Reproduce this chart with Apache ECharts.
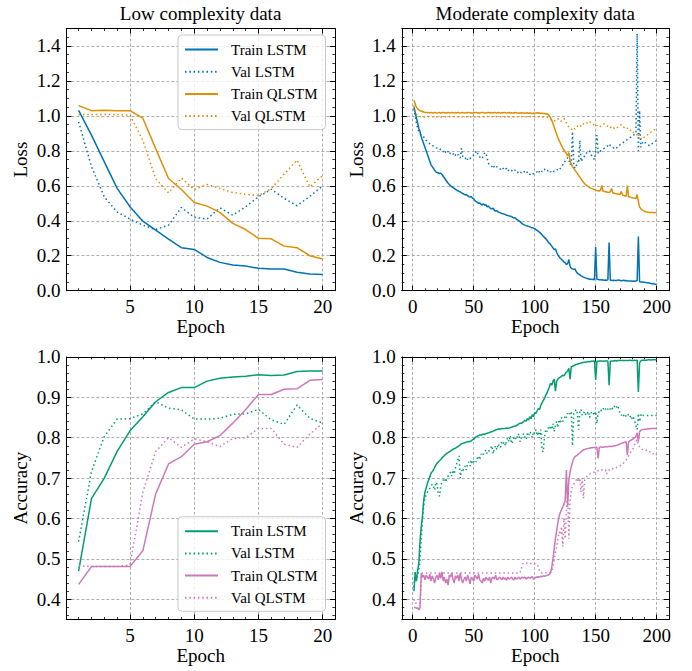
<!DOCTYPE html>
<html><head><meta charset="utf-8">
<script src="https://cdn.jsdelivr.net/npm/echarts@6/dist/echarts.min.js"></script>
<style>html,body{margin:0;padding:0;background:#fff}#c{width:692px;height:671px}</style>
</head><body><div id="c"></div>
<script>
// ---------- data ----------
const epochsLow = [1,2,3,4,5,6,7,8,9,10,11,12,13,14,15,16,17,18,19,20];
const epochsMod = Array.from({length:200}, (_, i) => i + 1);

const lowXTicks = [5,10,15,20];
const modXTicks = [0,50,100,150,200];
const lossYTicks = [0,0.2,0.4,0.6,0.8,1.0,1.2,1.4];
const accYTicks = [0.4,0.5,0.6,0.7,0.8,0.9,1.0];

const legendNames = ['Train LSTM','Val LSTM','Train QLSTM','Val QLSTM'];
const titles = ['Low complexity data','Moderate complexity data'];

// Low complexity: loss
const lossTrainLSTMLow = [1.032,0.89,0.737,0.585,0.48,0.398,0.347,0.295,0.246,0.236,0.19,0.162,0.147,0.141,0.128,0.124,0.124,0.105,0.095,0.093];
const lossValLSTMLow   = [0.966,0.71,0.537,0.45,0.41,0.375,0.35,0.375,0.476,0.42,0.41,0.474,0.432,0.48,0.537,0.58,0.528,0.486,0.54,0.6];
const lossTrainQLSTMLow= [1.059,1.03,1.032,1.03,1.03,0.987,0.813,0.642,0.579,0.505,0.484,0.448,0.385,0.35,0.3,0.297,0.255,0.246,0.2,0.181];
const lossValQLSTMLow  = [1.008,1.008,1.008,1.008,1.004,0.86,0.64,0.56,0.644,0.579,0.608,0.585,0.562,0.552,0.543,0.585,0.667,0.747,0.594,0.659];
// Low complexity: accuracy
const accTrainLSTMLow  = [0.47,0.649,0.7,0.766,0.817,0.852,0.889,0.912,0.924,0.924,0.94,0.947,0.95,0.952,0.956,0.954,0.955,0.964,0.965,0.965];
const accValLSTMLow    = [0.543,0.716,0.803,0.846,0.847,0.859,0.889,0.873,0.869,0.846,0.846,0.848,0.858,0.859,0.87,0.844,0.833,0.881,0.848,0.836];
const accTrainQLSTMLow = [0.437,0.481,0.481,0.481,0.481,0.52,0.661,0.735,0.753,0.784,0.79,0.805,0.836,0.869,0.907,0.907,0.92,0.921,0.942,0.944];
const accValQLSTMLow   = [0.483,0.481,0.481,0.481,0.485,0.665,0.766,0.8,0.776,0.797,0.79,0.778,0.798,0.8,0.823,0.823,0.784,0.776,0.809,0.836];

// Moderate complexity: loss
const lossTrainLSTMMod = [
1.05,1.02,0.99,0.96,0.93,0.91,0.88,0.86,0.84,0.82,
0.80,0.78,0.76,0.74,0.72,0.71,0.70,0.69,0.68,0.675,
0.675,0.67,0.672,0.665,0.655,0.645,0.635,0.625,0.615,0.608,
0.60,0.595,0.59,0.585,0.58,0.575,0.572,0.568,0.565,0.56,
0.556,0.552,0.548,0.55,0.544,0.538,0.535,0.54,0.53,0.525,
0.515,0.51,0.505,0.50,0.502,0.495,0.49,0.498,0.488,0.492,
0.48,0.485,0.475,0.47,0.468,0.472,0.46,0.455,0.458,0.45,
0.448,0.445,0.442,0.44,0.438,0.435,0.432,0.43,0.428,0.426,
0.425,0.42,0.416,0.418,0.41,0.405,0.40,0.395,0.388,0.382,
0.378,0.375,0.372,0.37,0.368,0.365,0.362,0.36,0.358,0.355,
0.35,0.345,0.34,0.334,0.328,0.32,0.312,0.305,0.298,0.29,
0.28,0.272,0.265,0.255,0.245,0.235,0.24,0.22,0.205,0.195,
0.185,0.18,0.172,0.165,0.16,0.15,0.155,0.178,0.14,0.128,
0.125,0.122,0.125,0.11,0.1,0.095,0.09,0.085,0.082,0.078,
0.075,0.072,0.07,0.068,0.066,0.065,0.064,0.065,0.063,0.25,
0.065,0.064,0.062,0.063,0.061,0.062,0.06,0.061,0.06,0.062,
0.275,0.06,0.06,0.058,0.06,0.059,0.058,0.06,0.062,0.058,
0.057,0.058,0.06,0.057,0.058,0.056,0.055,0.056,0.055,0.054,
0.055,0.054,0.056,0.058,0.31,0.052,0.05,0.05,0.049,0.048,
0.047,0.045,0.046,0.044,0.042,0.04,0.041,0.038,0.037,0.036];
const lossValLSTMMod = [
1.04,1.0,0.96,0.93,0.91,0.9,0.89,0.885,0.88,0.87,
0.86,0.855,0.85,0.84,0.835,0.83,0.828,0.825,0.82,0.815,
0.81,0.805,0.81,0.80,0.795,0.805,0.79,0.8,0.795,0.78,
0.79,0.785,0.78,0.79,0.775,0.77,0.78,0.765,0.76,0.815,
0.77,0.76,0.755,0.765,0.75,0.76,0.755,0.765,0.77,0.775,
0.78,0.8,0.79,0.77,0.765,0.755,0.76,0.77,0.79,0.785,
0.76,0.73,0.72,0.715,0.71,0.72,0.705,0.7,0.71,0.705,
0.7,0.695,0.705,0.7,0.69,0.695,0.7,0.685,0.69,0.695,
0.69,0.68,0.685,0.69,0.68,0.675,0.685,0.68,0.675,0.68,
0.685,0.675,0.67,0.68,0.675,0.665,0.67,0.675,0.668,0.672,
0.675,0.68,0.67,0.685,0.69,0.68,0.69,0.695,0.685,0.69,
0.685,0.69,0.68,0.685,0.69,0.68,0.685,0.69,0.695,0.69,
0.7,0.71,0.72,0.735,0.74,0.755,0.76,0.75,0.72,0.74,
0.91,0.72,0.7,0.71,0.74,0.73,0.86,0.74,0.75,0.765,
0.77,0.785,0.79,0.795,0.8,0.78,0.77,0.76,0.75,0.8,
0.89,0.79,0.785,0.8,0.805,0.81,0.815,0.82,0.825,0.83,
0.84,0.83,0.825,0.82,0.815,0.81,0.815,0.825,0.83,0.835,
0.84,0.845,0.85,0.855,0.86,0.865,0.87,0.875,0.88,0.885,
0.89,0.895,0.9,1.47,0.8,1.03,0.82,0.84,0.855,0.85,
0.845,0.84,0.835,0.83,0.835,0.84,0.845,0.85,0.855,0.86];
const lossTrainQLSTMMod = [
1.09,1.07,1.05,1.04,1.035,1.03,1.028,1.025,1.022,1.02,
1.02,1.018,1.02,1.017,1.02,1.018,1.016,1.02,1.018,1.017,
1.018,1.02,1.016,1.018,1.02,1.017,1.019,1.016,1.02,1.018,
1.017,1.02,1.018,1.016,1.019,1.017,1.02,1.018,1.016,1.018,
1.02,1.017,1.016,1.019,1.018,1.02,1.017,1.018,1.016,1.019,
1.018,1.02,1.017,1.018,1.016,1.019,1.02,1.018,1.017,1.016,
1.018,1.02,1.017,1.019,1.018,1.016,1.02,1.018,1.017,1.019,
1.018,1.016,1.019,1.017,1.02,1.018,1.016,1.018,1.019,1.017,
1.018,1.016,1.017,1.019,1.018,1.016,1.017,1.015,1.018,1.016,
1.017,1.015,1.016,1.018,1.015,1.017,1.016,1.014,1.016,1.015,
1.016,1.018,1.015,1.017,1.014,1.016,1.013,1.015,1.01,1.012,
1.008,1.0,0.99,0.975,0.955,0.935,0.915,0.895,0.875,0.86,
0.845,0.83,0.815,0.805,0.795,0.785,0.77,0.79,0.745,0.725,
0.71,0.7,0.69,0.68,0.67,0.66,0.65,0.64,0.63,0.62,
0.612,0.605,0.6,0.595,0.59,0.587,0.584,0.581,0.578,0.575,
0.573,0.572,0.57,0.575,0.602,0.57,0.567,0.566,0.565,0.563,
0.562,0.566,0.585,0.56,0.558,0.556,0.555,0.553,0.552,0.55,
0.568,0.547,0.545,0.543,0.54,0.602,0.538,0.536,0.534,0.532,
0.53,0.529,0.528,0.55,0.51,0.48,0.468,0.462,0.458,0.455,
0.452,0.45,0.449,0.448,0.448,0.447,0.447,0.446,0.448,0.447];
const lossValQLSTMMod = [
1.06,1.03,1.01,1.0,0.998,0.996,0.995,0.995,0.994,0.994,
0.995,0.994,0.996,0.995,0.994,0.995,0.996,0.994,0.995,0.995,
0.994,0.996,0.995,0.994,0.995,0.996,0.995,0.994,0.995,0.996,
0.995,0.994,0.995,0.996,0.995,0.994,0.995,0.995,0.996,0.994,
0.995,0.996,0.994,0.995,0.995,0.996,0.994,0.995,0.996,0.995,
0.994,0.995,0.996,0.995,0.994,0.995,0.996,0.995,0.994,0.995,
0.996,0.995,0.994,0.995,0.996,0.994,0.995,0.995,0.996,0.995,
0.994,0.995,0.996,0.995,0.994,0.995,0.995,0.996,0.994,0.995,
0.995,0.996,0.994,0.995,0.996,0.995,0.994,0.995,0.996,0.995,
0.994,0.995,0.995,0.996,0.994,0.995,0.996,0.995,0.994,0.995,
0.995,0.994,0.995,0.996,0.995,0.994,0.993,0.994,0.993,0.992,
0.99,0.985,0.98,0.975,0.972,0.97,0.975,0.98,0.985,0.975,
0.968,0.972,0.98,0.985,0.975,0.96,0.945,0.935,0.93,0.925,
0.92,0.93,0.925,0.935,0.94,0.945,0.95,0.94,0.945,0.955,
0.96,0.965,0.96,0.965,0.97,0.96,0.955,0.95,0.945,0.94,
0.945,0.94,0.935,0.94,0.945,0.95,0.955,0.95,0.945,0.94,
0.935,0.93,0.94,0.935,0.93,0.925,0.93,0.935,0.94,0.945,
0.95,0.94,0.935,0.93,0.925,0.93,0.92,0.915,0.92,0.91,
0.905,0.9,0.895,0.89,0.9,0.88,0.87,0.875,0.87,0.88,
0.885,0.89,0.895,0.9,0.905,0.91,0.915,0.92,0.925,0.93];

// Moderate complexity: accuracy
const accTrainLSTMMod = [
0.42,0.465,0.445,0.47,0.49,0.545,0.58,0.605,0.645,0.665,
0.675,0.687,0.695,0.703,0.712,0.716,0.72,0.727,0.732,0.737,
0.74,0.743,0.746,0.75,0.753,0.756,0.759,0.761,0.763,0.765,
0.767,0.769,0.771,0.773,0.774,0.776,0.778,0.78,0.782,0.785,
0.786,0.787,0.788,0.789,0.79,0.79,0.791,0.792,0.795,0.796,
0.8,0.802,0.804,0.805,0.807,0.806,0.808,0.809,0.808,0.81,
0.811,0.812,0.813,0.814,0.815,0.816,0.818,0.819,0.82,0.821,
0.822,0.821,0.823,0.822,0.823,0.823,0.824,0.823,0.824,0.825,
0.826,0.827,0.828,0.829,0.83,0.832,0.834,0.836,0.835,0.838,
0.84,0.843,0.841,0.847,0.844,0.852,0.847,0.857,0.852,0.862,
0.86,0.866,0.872,0.87,0.88,0.886,0.892,0.897,0.905,0.91,
0.918,0.925,0.935,0.93,0.94,0.945,0.915,0.94,0.945,0.948,
0.95,0.952,0.955,0.953,0.958,0.962,0.965,0.972,0.945,0.976,
0.977,0.978,0.98,0.981,0.982,0.983,0.984,0.985,0.986,0.986,
0.987,0.987,0.988,0.988,0.988,0.989,0.989,0.99,0.99,0.943,
0.989,0.989,0.99,0.99,0.99,0.989,0.99,0.99,0.99,0.99,
0.93,0.989,0.99,0.99,0.99,0.991,0.99,0.991,0.991,0.991,
0.991,0.991,0.991,0.991,0.991,0.991,0.991,0.992,0.991,0.991,
0.991,0.992,0.991,0.992,0.913,0.985,0.99,0.992,0.992,0.992,
0.992,0.992,0.993,0.993,0.992,0.993,0.993,0.993,0.993,0.993];
const accValLSTMMod = [
0.43,0.47,0.45,0.46,0.47,0.5,0.55,0.6,0.63,0.65,
0.66,0.665,0.67,0.675,0.68,0.685,0.68,0.67,0.69,0.685,
0.66,0.655,0.68,0.69,0.695,0.7,0.69,0.7,0.705,0.71,
0.715,0.705,0.72,0.71,0.725,0.735,0.745,0.755,0.7,0.72,
0.715,0.725,0.73,0.72,0.735,0.74,0.73,0.745,0.735,0.74,
0.745,0.74,0.75,0.755,0.745,0.76,0.755,0.76,0.765,0.77,
0.76,0.765,0.77,0.775,0.78,0.76,0.775,0.78,0.77,0.785,
0.78,0.775,0.79,0.785,0.79,0.78,0.795,0.8,0.79,0.805,
0.785,0.79,0.8,0.795,0.805,0.8,0.81,0.79,0.8,0.805,
0.81,0.8,0.795,0.81,0.805,0.815,0.81,0.8,0.815,0.81,
0.82,0.805,0.815,0.8,0.82,0.77,0.765,0.8,0.82,0.815,
0.825,0.82,0.83,0.82,0.835,0.815,0.83,0.84,0.825,0.845,
0.835,0.85,0.84,0.845,0.855,0.85,0.86,0.855,0.86,0.865,
0.78,0.86,0.865,0.87,0.86,0.82,0.865,0.87,0.855,0.86,
0.865,0.855,0.86,0.865,0.85,0.86,0.865,0.86,0.855,0.865,
0.835,0.86,0.865,0.87,0.865,0.87,0.875,0.87,0.875,0.87,
0.875,0.87,0.875,0.87,0.875,0.88,0.875,0.88,0.87,0.86,
0.855,0.86,0.855,0.85,0.855,0.86,0.855,0.85,0.855,0.845,
0.85,0.84,0.83,0.82,0.86,0.84,0.855,0.86,0.855,0.855,
0.855,0.855,0.855,0.855,0.855,0.855,0.855,0.855,0.855,0.855];
const accTrainQLSTMMod = [
0.38,0.38,0.378,0.379,0.374,0.38,0.465,0.455,0.46,0.448,
0.46,0.455,0.45,0.462,0.445,0.458,0.45,0.44,0.455,0.46,
0.448,0.465,0.452,0.468,0.445,0.455,0.44,0.45,0.435,0.46,
0.455,0.465,0.45,0.44,0.458,0.452,0.46,0.445,0.465,0.45,
0.44,0.45,0.455,0.445,0.46,0.45,0.438,0.455,0.45,0.445,
0.46,0.455,0.45,0.462,0.448,0.445,0.44,0.452,0.445,0.455,
0.45,0.447,0.455,0.44,0.452,0.455,0.45,0.46,0.448,0.45,
0.455,0.452,0.448,0.455,0.45,0.453,0.447,0.455,0.45,0.452,
0.455,0.45,0.448,0.455,0.45,0.452,0.455,0.45,0.453,0.455,
0.452,0.455,0.45,0.453,0.455,0.452,0.454,0.456,0.45,0.452,
0.455,0.454,0.456,0.455,0.457,0.456,0.458,0.457,0.458,0.459,
0.46,0.462,0.465,0.48,0.5,0.525,0.55,0.57,0.59,0.605,
0.615,0.622,0.628,0.635,0.645,0.72,0.63,0.695,0.715,0.728,
0.74,0.748,0.753,0.755,0.757,0.76,0.762,0.765,0.768,0.77,
0.771,0.772,0.773,0.773,0.774,0.775,0.775,0.776,0.776,0.776,
0.777,0.749,0.776,0.777,0.777,0.776,0.777,0.778,0.777,0.778,
0.778,0.779,0.778,0.779,0.78,0.78,0.781,0.782,0.783,0.785,
0.786,0.787,0.788,0.789,0.79,0.757,0.79,0.792,0.794,0.796,
0.798,0.8,0.803,0.812,0.79,0.815,0.818,0.82,0.82,0.821,
0.821,0.821,0.822,0.822,0.822,0.823,0.823,0.823,0.823,0.823];
const accValQLSTMMod = [
0.4,0.39,0.39,0.39,0.39,0.39,0.45,0.465,0.465,0.465,
0.465,0.465,0.465,0.465,0.465,0.465,0.465,0.465,0.465,0.465,
0.465,0.465,0.465,0.465,0.465,0.465,0.465,0.465,0.465,0.465,
0.465,0.465,0.465,0.465,0.465,0.465,0.465,0.465,0.465,0.465,
0.465,0.465,0.465,0.465,0.465,0.465,0.465,0.465,0.465,0.465,
0.465,0.465,0.465,0.465,0.465,0.465,0.465,0.465,0.465,0.465,
0.465,0.465,0.465,0.465,0.465,0.465,0.465,0.465,0.465,0.465,
0.465,0.465,0.465,0.465,0.465,0.465,0.465,0.465,0.465,0.465,
0.465,0.465,0.465,0.465,0.465,0.465,0.465,0.465,0.475,0.488,
0.488,0.49,0.49,0.49,0.49,0.49,0.488,0.49,0.489,0.488,
0.488,0.487,0.48,0.47,0.466,0.465,0.466,0.465,0.466,0.465,
0.465,0.465,0.468,0.47,0.48,0.5,0.515,0.53,0.55,0.567,
0.56,0.58,0.53,0.6,0.55,0.62,0.665,0.55,0.64,0.67,
0.68,0.685,0.69,0.695,0.7,0.69,0.7,0.665,0.7,0.65,
0.695,0.7,0.705,0.708,0.71,0.712,0.713,0.714,0.715,0.716,
0.717,0.718,0.72,0.719,0.72,0.722,0.721,0.72,0.71,0.718,
0.72,0.722,0.724,0.723,0.725,0.724,0.726,0.727,0.728,0.73,
0.732,0.735,0.738,0.742,0.745,0.75,0.755,0.76,0.765,0.77,
0.775,0.785,0.79,0.795,0.78,0.778,0.775,0.772,0.77,0.77,
0.768,0.77,0.768,0.765,0.765,0.762,0.76,0.762,0.758,0.757];

// ---------- styling / layout ----------
const C = {blue:'#0173B2', orange:'#DE8F05', green:'#029E73', pink:'#CC78BC'};
const FONT = '"Liberation Serif", "DejaVu Serif", serif';
function steps(a, b, s){ const r=[]; for(let v=a; v<=b+1e-9; v+=s) r.push(+v.toFixed(4)); return r; }
const lowXMinor = steps(1,20,1), modXMinor = steps(0,200,10);
const lossYMinor = steps(0,1.5,0.05), accYMinor = steps(0.36,1.0,0.02);

const panels = [
  {rect:{left:66.4, top:28.5, width:268.5, height:262.2}, x:[0.05,20.95], xt:lowXTicks, xm:lowXMinor, y:[0,1.5], yt:lossYTicks, ym:lossYMinor, yname:'Loss'},
  {rect:{left:401.8, top:28.5, width:267, height:262.2}, x:[-8.95,209.95], xt:modXTicks, xm:modXMinor, y:[0,1.5], yt:lossYTicks, ym:lossYMinor, yname:'Loss'},
  {rect:{left:66.4, top:356.9, width:268.5, height:262.6}, x:[0.05,20.95], xt:lowXTicks, xm:lowXMinor, y:[0.35,1.0], yt:accYTicks, ym:accYMinor, yname:'Accuracy'},
  {rect:{left:401.8, top:356.9, width:267, height:262.6}, x:[-8.95,209.95], xt:modXTicks, xm:modXMinor, y:[0.35,1.0], yt:accYTicks, ym:accYMinor, yname:'Accuracy'}
];
const txt = {fontFamily:FONT, fontSize:19, color:'#000'};
const gridLine = {show:true, lineStyle:{color:'#9a9a9a', width:0.8, type:[3,2]}};

function mainAxis(dim, g, pos, p, primary){
  const isX = dim === 'x';
  const ticks = isX ? p.xt : p.yt;
  return {
    type:'value', gridIndex:g, position:pos, silent:true,
    min: isX ? p.x[0] : p.y[0], max: isX ? p.x[1] : p.y[1],
    axisLine:{show:true, onZero:false, lineStyle:{color:'#000', width:1}},
    axisTick:{show:true, inside:true, length:5, customValues:ticks, lineStyle:{color:'#000', width:1}},
    axisLabel:{show:primary, customValues:ticks, margin:6, ...txt,
      formatter: isX ? (v => String(Math.round(v))) : (v => Number(v).toFixed(1))},
    splitLine: primary ? gridLine : {show:false},
    name: primary ? (isX ? 'Epoch' : p.yname) : '',
    nameLocation:'middle', nameGap: isX ? 26 : 36, nameTextStyle:{...txt}
  };
}
function minorAxis(dim, g, pos, p){
  const isX = dim === 'x';
  return {
    type:'value', gridIndex:g, position:pos, silent:true,
    min: isX ? p.x[0] : p.y[0], max: isX ? p.x[1] : p.y[1],
    axisLine:{show:false, onZero:false},
    axisTick:{show:true, inside:true, length:2.5, customValues: isX ? p.xm : p.ym, lineStyle:{color:'#000', width:0.8}},
    axisLabel:{show:false}, splitLine:{show:false}
  };
}
const grid=[], xAxis=[], yAxis=[];
panels.forEach((p,i)=>{
  grid.push({...p.rect, containLabel:false});
  grid.push({...p.rect, containLabel:false});
  const g0 = 2*i, g1 = 2*i+1;
  xAxis.push(mainAxis('x',g0,'bottom',p,true), mainAxis('x',g0,'top',p,false), minorAxis('x',g1,'bottom',p), minorAxis('x',g1,'top',p));
  yAxis.push(mainAxis('y',g0,'left',p,true), mainAxis('y',g0,'right',p,false), minorAxis('y',g1,'left',p), minorAxis('y',g1,'right',p));
});

function line(name, xs, ys, panel, color, dotted){
  return {type:'line', name, xAxisIndex:4*panel, yAxisIndex:4*panel,
    data: xs.map((x,k)=>[x, ys[k]]), symbol:'none', showSymbol:false, silent:true, clip:true,
    lineStyle:{color, width:1.5, type: dotted ? [1.5,2.8] : 'solid'}, itemStyle:{color},
    emphasis:{disabled:true}};
}
const series = [
  line('L|'+legendNames[0], epochsLow, lossTrainLSTMLow, 0, C.blue, false),
  line('L|'+legendNames[1], epochsLow, lossValLSTMLow, 0, C.blue, true),
  line('L|'+legendNames[2], epochsLow, lossTrainQLSTMLow, 0, C.orange, false),
  line('L|'+legendNames[3], epochsLow, lossValQLSTMLow, 0, C.orange, true),
  line('L|'+legendNames[0], epochsMod, lossTrainLSTMMod, 1, C.blue, false),
  line('L|'+legendNames[1], epochsMod, lossValLSTMMod, 1, C.blue, true),
  line('L|'+legendNames[2], epochsMod, lossTrainQLSTMMod, 1, C.orange, false),
  line('L|'+legendNames[3], epochsMod, lossValQLSTMMod, 1, C.orange, true),
  line('A|'+legendNames[0], epochsLow, accTrainLSTMLow, 2, C.green, false),
  line('A|'+legendNames[1], epochsLow, accValLSTMLow, 2, C.green, true),
  line('A|'+legendNames[2], epochsLow, accTrainQLSTMLow, 2, C.pink, false),
  line('A|'+legendNames[3], epochsLow, accValQLSTMLow, 2, C.pink, true),
  line('A|'+legendNames[0], epochsMod, accTrainLSTMMod, 3, C.green, false),
  line('A|'+legendNames[1], epochsMod, accValLSTMMod, 3, C.green, true),
  line('A|'+legendNames[2], epochsMod, accTrainQLSTMMod, 3, C.pink, false),
  line('A|'+legendNames[3], epochsMod, accValQLSTMMod, 3, C.pink, true)
];
function legendAt(prefix, top){
  return {data: legendNames.map(n=>prefix+n), orient:'vertical', left:178, top,
    itemWidth:33, itemHeight:14, itemGap:7.2, padding:[7,8,6,6], selectedMode:false,
    itemStyle:{color:'transparent', borderColor:'transparent', borderWidth:0, opacity:0},
    formatter: n => n.split('|')[1],
    textStyle:{fontFamily:FONT, fontSize:15, color:'#000', lineHeight:14, padding:[0,0,0,8]},
    backgroundColor:'rgba(255,255,255,0.8)', borderColor:'#c8c8c8', borderWidth:1, borderRadius:4};
}
const chart = echarts.init(document.getElementById('c'), null, {renderer:'svg'});
chart.setOption({
  animation:false, backgroundColor:'#fff',
  grid, xAxis, yAxis, series,
  legend:[legendAt('L|', 35), legendAt('A|', 516.7)],
  graphic:[
    {type:'text', x:200.6, y:13, silent:true, style:{text:titles[0], fill:'#000', font:'19px "Liberation Serif"', textAlign:'center', textVerticalAlign:'middle', align:'center', verticalAlign:'middle'}},
    {type:'text', x:535.3, y:13, silent:true, style:{text:titles[1], fill:'#000', font:'19px "Liberation Serif"', textAlign:'center', textVerticalAlign:'middle', align:'center', verticalAlign:'middle'}}
  ]
});
</script></body></html>
